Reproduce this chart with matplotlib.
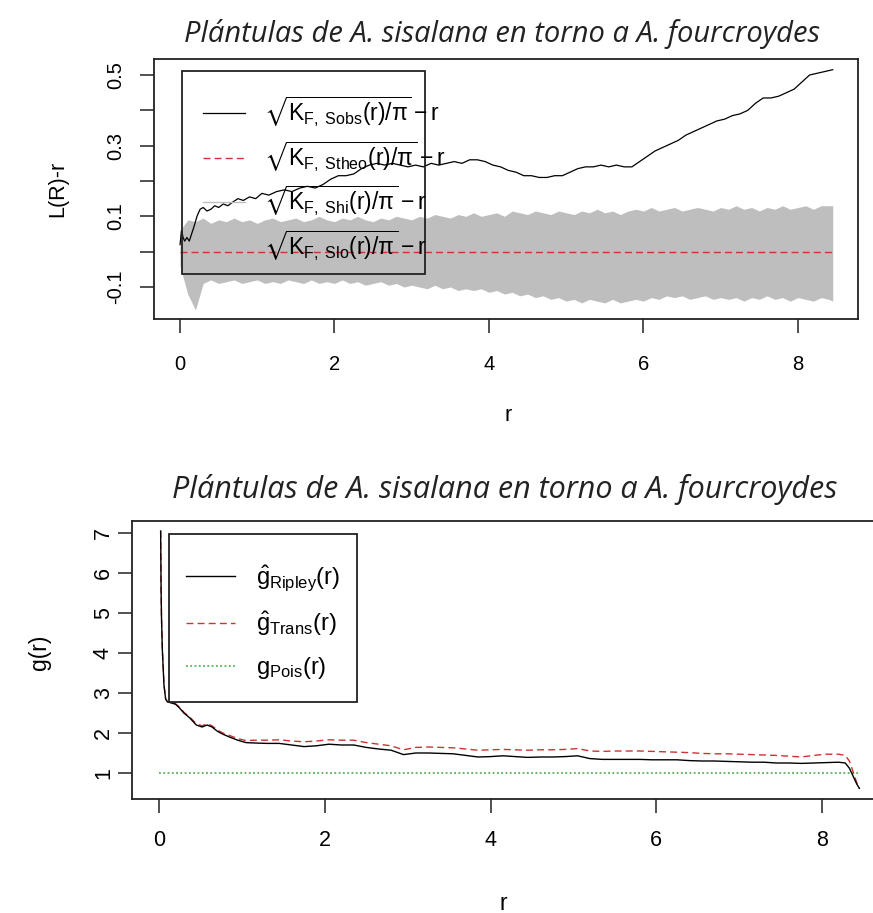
import matplotlib
matplotlib.use("Agg")
import matplotlib.pyplot as plt
from matplotlib.lines import Line2D
from matplotlib.patches import Rectangle

# ---------------- data: top panel ----------------
r_obs = [0.00, 0.02, 0.04, 0.06, 0.09, 0.12, 0.15, 0.18, 0.22, 0.26, 0.30, 0.35, 0.40, 0.45, 0.50,
         0.56, 0.62, 0.68, 0.75, 0.82, 0.90, 0.98, 1.06, 1.15, 1.25, 1.35, 1.45, 1.55, 1.65, 1.75,
         1.85, 1.95, 2.05, 2.15, 2.25, 2.35, 2.45, 2.55, 2.65, 2.75, 2.85, 2.95, 3.05, 3.15, 3.25,
         3.35, 3.45, 3.55, 3.65, 3.75, 3.85, 3.95, 4.05, 4.15, 4.25, 4.35, 4.45, 4.55, 4.65, 4.75,
         4.85, 4.95, 5.05, 5.15, 5.25, 5.35, 5.45, 5.55, 5.65, 5.75, 5.85, 5.95, 6.05, 6.15, 6.25,
         6.35, 6.45, 6.55, 6.65, 6.75, 6.85, 6.95, 7.05, 7.15, 7.25, 7.35, 7.45, 7.55, 7.65, 7.75,
         7.85, 7.95, 8.05, 8.15, 8.25, 8.35, 8.45]
l_obs = [0.020, 0.060, 0.040, 0.030, 0.040, 0.030, 0.050, 0.070, 0.100, 0.120, 0.125, 0.115, 0.120, 0.130, 0.125,
         0.135, 0.130, 0.140, 0.150, 0.145, 0.155, 0.150, 0.165, 0.160, 0.170, 0.175, 0.170, 0.180, 0.185, 0.180,
         0.190, 0.205, 0.215, 0.215, 0.220, 0.235, 0.245, 0.250, 0.245, 0.250, 0.245, 0.240, 0.245, 0.240, 0.250,
         0.245, 0.250, 0.255, 0.250, 0.260, 0.260, 0.255, 0.245, 0.240, 0.230, 0.225, 0.215, 0.215, 0.210, 0.210,
         0.215, 0.215, 0.225, 0.235, 0.240, 0.240, 0.245, 0.240, 0.245, 0.240, 0.240, 0.255, 0.270, 0.285, 0.295,
         0.305, 0.315, 0.330, 0.340, 0.350, 0.360, 0.370, 0.375, 0.385, 0.390, 0.400, 0.420, 0.435, 0.435, 0.440,
         0.450, 0.460, 0.480, 0.500, 0.505, 0.510, 0.515]

r_env = [0.0, 0.1, 0.2, 0.3, 0.4, 0.5, 0.6, 0.7, 0.8, 0.9, 1.0, 1.1, 1.2, 1.3, 1.4, 1.5, 1.6, 1.7, 1.8, 1.9,
         2.0, 2.1, 2.2, 2.3, 2.4, 2.5, 2.6, 2.7, 2.8, 2.9, 3.0, 3.1, 3.2, 3.3, 3.4, 3.5, 3.6, 3.7, 3.8, 3.9,
         4.0, 4.1, 4.2, 4.3, 4.4, 4.5, 4.6, 4.7, 4.8, 4.9, 5.0, 5.1, 5.2, 5.3, 5.4, 5.5, 5.6, 5.7, 5.8, 5.9,
         6.0, 6.1, 6.2, 6.3, 6.4, 6.5, 6.6, 6.7, 6.8, 6.9, 7.0, 7.1, 7.2, 7.3, 7.4, 7.5, 7.6, 7.7, 7.8, 7.9,
         8.0, 8.1, 8.2, 8.3, 8.4, 8.45]
l_hi = [0.060, 0.090, 0.085, 0.095, 0.080, 0.090, 0.085, 0.095, 0.085, 0.090, 0.080, 0.090, 0.095, 0.085, 0.090,
        0.095, 0.085, 0.090, 0.100, 0.090, 0.085, 0.095, 0.090, 0.100, 0.090, 0.085, 0.095, 0.090, 0.100, 0.095,
        0.090, 0.100, 0.095, 0.105, 0.100, 0.095, 0.105, 0.100, 0.110, 0.100, 0.105, 0.110, 0.100, 0.115, 0.110,
        0.105, 0.115, 0.110, 0.105, 0.115, 0.110, 0.105, 0.115, 0.110, 0.120, 0.110, 0.115, 0.105, 0.115, 0.120,
        0.115, 0.125, 0.115, 0.120, 0.125, 0.115, 0.120, 0.125, 0.120, 0.115, 0.125, 0.120, 0.130, 0.120, 0.125,
        0.115, 0.125, 0.120, 0.130, 0.120, 0.125, 0.130, 0.120, 0.130, 0.130, 0.130]
l_lo = [-0.040, -0.120, -0.165, -0.090, -0.080, -0.090, -0.085, -0.080, -0.090, -0.085, -0.080, -0.090, -0.085,
        -0.090, -0.080, -0.085, -0.090, -0.080, -0.090, -0.085, -0.090, -0.080, -0.090, -0.085, -0.095, -0.090,
        -0.085, -0.095, -0.090, -0.100, -0.095, -0.100, -0.105, -0.095, -0.105, -0.100, -0.110, -0.105, -0.110,
        -0.105, -0.115, -0.110, -0.120, -0.115, -0.125, -0.120, -0.130, -0.125, -0.135, -0.130, -0.140, -0.135,
        -0.145, -0.135, -0.140, -0.145, -0.135, -0.145, -0.140, -0.135, -0.140, -0.130, -0.135, -0.125, -0.130,
        -0.125, -0.135, -0.130, -0.125, -0.135, -0.130, -0.135, -0.130, -0.140, -0.130, -0.135, -0.125, -0.135,
        -0.130, -0.140, -0.130, -0.135, -0.140, -0.130, -0.135, -0.140]
l_theo = [0.0, 0.0]
r_theo = [0.0, 8.45]

# ---------------- data: bottom panel ----------------
r_g = [0.02, 0.025, 0.03, 0.04, 0.05, 0.06, 0.08, 0.10, 0.15, 0.20, 0.25, 0.30, 0.37, 0.45, 0.52,
       0.58, 0.64, 0.70, 0.76, 0.85, 0.95, 1.05, 1.15, 1.30, 1.45, 1.60, 1.75, 1.90, 2.05, 2.20,
       2.35, 2.50, 2.65, 2.80, 2.95, 3.10, 3.25, 3.40, 3.55, 3.70, 3.85, 4.00, 4.15, 4.30, 4.45,
       4.60, 4.75, 4.90, 5.05, 5.20, 5.35, 5.50, 5.65, 5.80, 5.95, 6.10, 6.25, 6.40, 6.55, 6.70,
       6.85, 7.00, 7.15, 7.30, 7.45, 7.60, 7.75, 7.90, 8.05, 8.20, 8.28, 8.33, 8.38, 8.42, 8.45]
g_ripley = [7.05, 5.60, 4.90, 4.10, 3.65, 3.20, 2.85, 2.78, 2.75, 2.72, 2.62, 2.50, 2.38, 2.20, 2.15,
            2.20, 2.15, 2.05, 1.98, 1.90, 1.82, 1.76, 1.75, 1.74, 1.74, 1.70, 1.66, 1.68, 1.72, 1.70,
            1.70, 1.64, 1.60, 1.57, 1.46, 1.50, 1.50, 1.49, 1.48, 1.44, 1.40, 1.41, 1.43, 1.41, 1.39,
            1.40, 1.40, 1.41, 1.43, 1.36, 1.34, 1.34, 1.34, 1.34, 1.33, 1.33, 1.33, 1.31, 1.30, 1.30,
            1.29, 1.28, 1.27, 1.27, 1.25, 1.25, 1.24, 1.25, 1.26, 1.27, 1.25, 1.12, 0.90, 0.72, 0.62]
g_trans = [7.05, 5.60, 4.90, 4.10, 3.65, 3.20, 2.86, 2.79, 2.76, 2.73, 2.64, 2.52, 2.40, 2.23, 2.18,
           2.23, 2.18, 2.08, 2.01, 1.94, 1.86, 1.81, 1.82, 1.82, 1.83, 1.80, 1.78, 1.80, 1.83, 1.82,
           1.82, 1.76, 1.72, 1.68, 1.58, 1.64, 1.65, 1.64, 1.63, 1.60, 1.57, 1.58, 1.59, 1.58, 1.57,
           1.58, 1.58, 1.59, 1.61, 1.55, 1.54, 1.55, 1.55, 1.55, 1.54, 1.53, 1.52, 1.51, 1.49, 1.48,
           1.48, 1.47, 1.46, 1.45, 1.44, 1.42, 1.40, 1.44, 1.47, 1.47, 1.44, 1.30, 1.00, 0.75, 0.60]
r_pois = [0.0, 8.45]
g_pois = [1.0, 1.0]

title_txt = "Plántulas de A. sisalana en torno a A. fourcroydes"
top_labels = [r"$\sqrt{\mathrm{K}_{\mathrm{F,\ Sobs}}(\mathrm{r})/\mathrm{\pi}}-\mathrm{r}$",
              r"$\sqrt{\mathrm{K}_{\mathrm{F,\ Stheo}}(\mathrm{r})/\mathrm{\pi}}-\mathrm{r}$",
              r"$\sqrt{\mathrm{K}_{\mathrm{F,\ Shi}}(\mathrm{r})/\mathrm{\pi}}-\mathrm{r}$",
              r"$\sqrt{\mathrm{K}_{\mathrm{F,\ Slo}}(\mathrm{r})/\mathrm{\pi}}-\mathrm{r}$"]
bot_labels = [r"$\hat{\mathrm{g}}_{\mathrm{Ripley}}(\mathrm{r})$",
              r"$\hat{\mathrm{g}}_{\mathrm{Trans}}(\mathrm{r})$",
              r"$\mathrm{g}_{\mathrm{Pois}}(\mathrm{r})$"]
top_yticks = [-0.1, 0.0, 0.1, 0.2, 0.3, 0.4, 0.5]
top_yticklabels = ["-0.1", "", "0.1", "", "0.3", "", "0.5"]
xticks = [0, 2, 4, 6, 8]
bot_yticks = [1, 2, 3, 4, 5, 6, 7]

# ---------------- styling ----------------
plt.rcParams["font.family"] = ["Liberation Sans", "DejaVu Sans"]
plt.rcParams["mathtext.fontset"] = "custom"
plt.rcParams["mathtext.rm"] = "Liberation Sans"
plt.rcParams["mathtext.it"] = "Liberation Sans"
plt.rcParams["mathtext.bf"] = "Liberation Sans:bold"
plt.rcParams["mathtext.fallback"] = "stixsans"

W, H = 873, 913
fig = plt.figure(figsize=(W / 100, H / 100), dpi=100)


def px_axes(l, t, r, b):
    return fig.add_axes([l / W, 1 - b / H, (r - l) / W, (b - t) / H])


def px_box(ax, l, t, r, b, face):
    rect = Rectangle((l / W, 1 - b / H), (r - l) / W, (b - t) / H, transform=fig.transFigure,
                     facecolor=face, edgecolor="#222222", linewidth=1.3, zorder=4.5, clip_on=False)
    ax.add_patch(rect)


RED = "#cc3333"
GREEN = "#3aa53a"
GRAY = "#bebebe"


def style(ax, fs):
    for s in ax.spines.values():
        s.set_linewidth(1.3)
        s.set_color("#222222")
    ax.tick_params(length=10, width=1.1, color="#222222", labelsize=fs)


# ---- top panel ----
ax1 = px_axes(154, 59, 858, 319)
ax1.fill_between(r_env, l_lo, l_hi, color=GRAY, linewidth=0, zorder=1)
ax1.plot(r_theo, l_theo, color=RED, lw=1.0, dashes=(5, 3), zorder=2)
ax1.plot(r_obs, l_obs, color="black", lw=0.9, zorder=3)
ax1.set_xlim(-0.3366, 8.777)
ax1.set_ylim(-0.1906, 0.5453)
ax1.set_xticks(xticks)
ax1.set_yticks(top_yticks)
ax1.set_yticklabels(top_yticklabels, rotation=90, va="center")
style(ax1, 14.5)
ax1.tick_params(axis="y", pad=11)
ax1.tick_params(axis="x", pad=16)

px_box(ax1, 182, 71, 425, 274, "none")
h1 = [Line2D([], [], color="black", lw=0.9),
      Line2D([], [], color=RED, lw=1.0, dashes=(5, 3)),
      Line2D([], [], color=GRAY, lw=1.0),
      Line2D([], [], color=GRAY, lw=1.0)]
leg1 = ax1.legend(h1, top_labels, loc="upper left", bbox_to_anchor=(182 / W, 1 - 74 / H),
                  bbox_transform=fig.transFigure, fontsize=16.5, frameon=False,
                  handlelength=1.85, handletextpad=0.85, labelspacing=0.45, borderpad=0.9,
                  borderaxespad=0)

fig.text(502 / W, 1 - 34 / H, title_txt, family="Open Sans", style="italic",
         fontsize=21, ha="center", va="center", color="#222222")
fig.text(58 / W, 1 - 189 / H, "L(R)-r", rotation=90, fontsize=15.5, ha="center", va="center")
fig.text(508 / W, 1 - 415 / H, "r", fontsize=15.5, ha="center", va="center")

# ---- bottom panel ----
ax2 = px_axes(132, 521, 888, 799)
ax2.plot(r_pois, g_pois, color=GREEN, lw=1.1, dashes=(1.2, 1.6), zorder=1)
ax2.plot(r_g, g_trans, color=RED, lw=1.0, dashes=(5, 3), zorder=2)
ax2.plot(r_g, g_ripley, color="black", lw=1.0, zorder=3)
ax2.set_xlim(-0.3258, 8.796)
ax2.set_ylim(0.35, 7.3)
ax2.set_xticks(xticks)
ax2.set_yticks(bot_yticks)
ax2.set_yticklabels([str(v) for v in bot_yticks], rotation=90, va="center")
style(ax2, 15.5)
ax2.tick_params(axis="y", pad=3)
ax2.tick_params(axis="x", pad=12)

px_box(ax2, 169, 534, 357, 702, "white")
h2 = [Line2D([], [], color="black", lw=1.0),
      Line2D([], [], color=RED, lw=1.0, dashes=(5, 3)),
      Line2D([], [], color=GREEN, lw=1.1, dashes=(1.2, 1.6))]
leg2 = ax2.legend(h2, bot_labels, loc="upper left", bbox_to_anchor=(169 / W, 1 - 547 / H),
                  bbox_transform=fig.transFigure, fontsize=17, frameon=False,
                  handlelength=2.1, handletextpad=0.9, labelspacing=0.7, borderpad=0.7,
                  borderaxespad=0)

fig.text(505 / W, 1 - 489 / H, title_txt, family="Open Sans", style="italic",
         fontsize=22, ha="center", va="center", color="#222222")
fig.text(40 / W, 1 - 652 / H, "g(r)", rotation=90, fontsize=16.5, ha="center", va="center")
fig.text(503 / W, 1 - 903 / H, "r", fontsize=16.5, ha="center", va="center")

fig.savefig("out.png", dpi=100)
